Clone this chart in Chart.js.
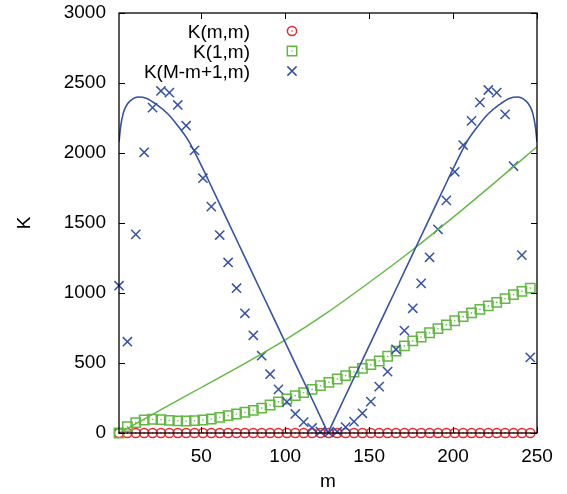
<!DOCTYPE html>
<html>
<head>
<meta charset="utf-8">
<title>K</title>
<script src="https://cdn.jsdelivr.net/npm/chart.js@4.4.1/dist/chart.umd.min.js"></script>
<style>
  html, body { margin: 0; padding: 0; background: #fff; }
  #wrap { width: 567px; height: 494px; }
</style>
</head>
<body>
<div id="wrap"><canvas id="chartK"></canvas></div>
<script>
// sampled m (every 5th)
const mPts = [1, 6, 11, 16, 21, 26, 31, 36, 41, 46, 51, 56, 61, 66, 71, 76, 81, 86, 91, 96,
  101, 106, 111, 116, 121, 126, 131, 136, 141, 146, 151, 156, 161, 166, 171, 176, 181, 186, 191, 196,
  201, 206, 211, 216, 221, 226, 231, 236, 241, 246];

const kMM = [0, 0, 0, 0, 0, 0, 0, 0, 0, 0, 0, 0, 0, 0, 0, 0, 0, 0, 0, 0,
  0, 0, 0, 0, 0, 0, 0, 0, 0, 0, 0, 0, 0, 0, 0, 0, 0, 0, 0, 0,
  0, 0, 0, 0, 0, 0, 0, 0, 0, 0];

const k1M = [0, 45, 74, 93, 98, 95, 90, 87, 86, 88, 93, 100, 112, 124, 136, 148, 162, 178, 200, 222,
  243, 267, 288, 312, 338, 362, 386, 410, 436, 462, 488, 514, 548, 585, 622, 658, 686, 716, 745, 772,
  802, 831, 858, 883, 908, 933, 960, 988, 1012, 1035];

const kRev = [1052, 652, 1419, 2005, 2324, 2443, 2431, 2343, 2195, 2019, 1820, 1617, 1414, 1218, 1034, 855, 698, 552, 420, 312,
  222, 136, 78, 36, 9, 2, 9, 42, 81, 141, 224, 331, 438, 598, 731, 891, 1069, 1255, 1455, 1662,
  1866, 2057, 2229, 2362, 2450, 2431, 2276, 1907, 1271, 540];

// smooth curves
const mGreen = [1, 25, 50, 75, 100, 125, 150, 175, 200, 225, 250];
const kGreen = [0, 160, 325, 490, 665, 860, 1075, 1300, 1540, 1790, 2045];

const mBlueL = [1, 2, 3.5, 5, 7.5, 12.5, 17.5, 23.5, 30, 36, 42, 48, 54.2, 66, 76, 86, 96, 106, 116, 125.5];
const kBlueL = [2080, 2190, 2283, 2330, 2370, 2400, 2390, 2345, 2280, 2195, 2095, 1960, 1807, 1508, 1255, 1002, 749, 496, 243, 0];
const mBlueR = [125.5, 135, 145, 155, 165, 175, 185, 196.8, 203, 209, 215, 221, 227.5, 233.5, 238.5, 243.5, 246, 247.5, 249, 250];
const kBlueR = [0, 243, 496, 749, 1002, 1255, 1508, 1807, 1960, 2095, 2195, 2280, 2345, 2390, 2400, 2370, 2330, 2283, 2190, 2080];

const xTicks = [50, 100, 150, 200, 250];
const yTicks = [0, 500, 1000, 1500, 2000, 2500, 3000];

const RED = "#e8262c";
const GREEN = "#62b941";
const BLUE = "#3552a6";
const FONT = "'Liberation Sans', Arial, Helvetica, sans-serif";

function pts(xs, ys) {
  return xs.map((x, i) => ({ x: x, y: ys[i] }));
}

function markerSet(label, ys, style, color, radius, order) {
  return {
    label: label,
    data: pts(mPts, ys),
    showLine: false,
    clip: false,
    pointStyle: style,
    pointRadius: radius,
    pointBorderWidth: 1.5,
    pointBorderColor: color,
    pointBackgroundColor: "rgba(0,0,0,0)",
    borderColor: color,
    order: order
  };
}

// the small dot gnuplot puts in the middle of open markers
function dotSet(ys, color, order) {
  return {
    label: "",
    data: pts(mPts, ys),
    showLine: false,
    clip: false,
    pointStyle: "circle",
    pointRadius: 0.8,
    pointBorderWidth: 0,
    pointBackgroundColor: color,
    order: order
  };
}

function drawMark(ctx, kind, x, y) {
  ctx.beginPath();
  if (kind === "circle") {
    ctx.strokeStyle = RED;
    ctx.fillStyle = RED;
    ctx.arc(x, y, 4.6, 0, Math.PI * 2);
  } else if (kind === "square") {
    ctx.strokeStyle = GREEN;
    ctx.fillStyle = GREEN;
    ctx.rect(x - 4.7, y - 4.7, 9.4, 9.4);
  } else {
    ctx.strokeStyle = BLUE;
    ctx.moveTo(x - 4.6, y - 4.6); ctx.lineTo(x + 4.6, y + 4.6);
    ctx.moveTo(x - 4.6, y + 4.6); ctx.lineTo(x + 4.6, y - 4.6);
  }
  ctx.lineWidth = 1.5;
  ctx.stroke();
  if (kind !== "cross") {
    ctx.beginPath();
    ctx.arc(x, y, 0.8, 0, Math.PI * 2);
    ctx.fill();
  }
}

// border box, inward ticks on all four sides, legend
const framePlugin = {
  id: "frame",
  afterDraw(chart) {
    const { ctx, chartArea: a, scales } = chart;
    ctx.save();
    ctx.strokeStyle = "#000";
    ctx.lineWidth = 1;
    ctx.beginPath();
    scales.x.ticks.forEach(t => {
      const px = Math.round(scales.x.getPixelForValue(t.value)) + 0.5;
      ctx.moveTo(px, a.bottom); ctx.lineTo(px, a.bottom - 6);
      ctx.moveTo(px, a.top); ctx.lineTo(px, a.top + 6);
    });
    scales.y.ticks.forEach(t => {
      const py = Math.round(scales.y.getPixelForValue(t.value)) + 0.5;
      ctx.moveTo(a.left, py); ctx.lineTo(a.left + 6, py);
      ctx.moveTo(a.right, py); ctx.lineTo(a.right - 6, py);
    });
    ctx.stroke();
    ctx.lineWidth = 1.3;
    ctx.strokeRect(a.left, a.top, a.right - a.left, a.bottom - a.top);

    // legend
    const rows = [
      { text: "K(m,m)", mark: "circle" },
      { text: "K(1,m)", mark: "square" },
      { text: "K(M-m+1,m)", mark: "cross" }
    ];
    ctx.font = "19px " + FONT;
    ctx.textAlign = "right";
    ctx.textBaseline = "alphabetic";
    rows.forEach((r, i) => {
      const cy = a.top + 18 + i * 20;
      ctx.fillStyle = "#000";
      ctx.fillText(r.text, a.left + 131, cy + 7);
      drawMark(ctx, r.mark, a.left + 173, cy);
    });
    ctx.restore();
  }
};

const ctx = document.getElementById("chartK");

new Chart(ctx, {
  type: "scatter",
  data: {
    datasets: [
      markerSet("K(m,m)", kMM, "circle", RED, 4.6, 7),
      dotSet(kMM, RED, 6),
      markerSet("K(1,m)", k1M, "rect", GREEN, 6.6, 5),
      dotSet(k1M, GREEN, 4),
      markerSet("K(M-m+1,m)", kRev, "crossRot", BLUE, 6.5, 3),
      {
        label: "green curve",
        data: pts(mGreen, kGreen),
        showLine: true,
        borderColor: GREEN,
        borderWidth: 1.4,
        pointRadius: 0,
        cubicInterpolationMode: "monotone",
        order: 2
      },
      {
        label: "blue curve L",
        data: pts(mBlueL, kBlueL),
        showLine: true,
        borderColor: BLUE,
        borderWidth: 1.6,
        pointRadius: 0,
        cubicInterpolationMode: "monotone",
        order: 1
      },
      {
        label: "blue curve R",
        data: pts(mBlueR, kBlueR),
        showLine: true,
        borderColor: BLUE,
        borderWidth: 1.6,
        pointRadius: 0,
        cubicInterpolationMode: "monotone",
        order: 1
      }
    ]
  },
  options: {
    responsive: true,
    maintainAspectRatio: false,
    animation: false,
    layout: { padding: { top: 13, right: 30, left: 0, bottom: 0 } },
    plugins: {
      legend: { display: false },
      tooltip: { enabled: false }
    },
    scales: {
      x: {
        type: "linear",
        min: 1,
        max: 250,
        afterBuildTicks: s => { s.ticks = xTicks.map(v => ({ value: v })); },
        afterFit: s => { s.height = 61; s.paddingLeft = 0; s.paddingRight = 0; },
        grid: { display: false, drawTicks: false },
        border: { display: false },
        ticks: {
          color: "#000",
          padding: 12,
          maxRotation: 0,
          callback: v => String(v),
          font: { family: FONT, size: 19 }
        },
        title: {
          display: true,
          text: "m",
          color: "#000",
          padding: { top: 0, bottom: 1 },
          font: { family: FONT, size: 19 }
        }
      },
      y: {
        min: 0,
        max: 3000,
        afterBuildTicks: s => { s.ticks = yTicks.map(v => ({ value: v })); },
        afterFit: s => { s.width = 119; s.paddingTop = 0; s.paddingBottom = 0; },
        grid: { display: false, drawTicks: false },
        border: { display: false },
        ticks: {
          color: "#000",
          padding: 13,
          callback: v => String(v),
          font: { family: FONT, size: 19 }
        },
        title: {
          display: true,
          text: "K",
          color: "#000",
          padding: { top: 13, bottom: 0 },
          font: { family: FONT, size: 19 }
        }
      }
    }
  },
  plugins: [framePlugin]
});
</script>
</body>
</html>
